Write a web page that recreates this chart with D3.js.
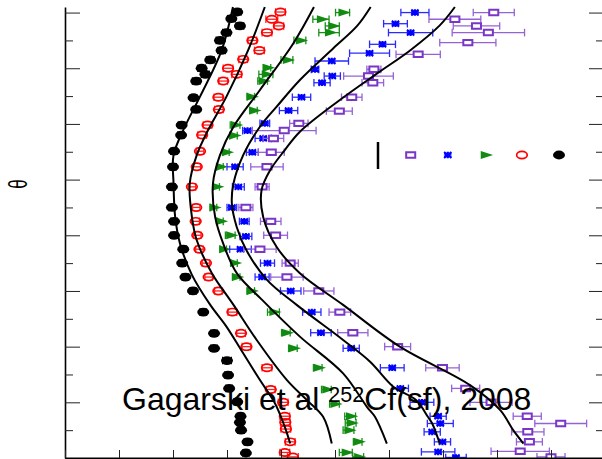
<!DOCTYPE html>
<meta charset="utf-8">
<style>
  body { margin: 0; background: #fff; }
  svg { display: block; font-family: "Liberation Sans", Arial, sans-serif; }
</style>
<svg width="602" height="459"></svg>
<script src="https://cdn.jsdelivr.net/npm/d3@7"></script>
<script>

// data (arbitrary axis units)
var blackX = [3.19,3.08,3.24,2.99,2.87,2.90,2.69,2.53,2.60,2.43,2.38,2.43,2.16,2.15,2.02,2.00,1.98,1.98,2.02,2.02,2.19,2.17,2.23,2.37,2.56,2.76,2.76,3.00,3.02,3.04,3.19,3.25,3.24,3.26,3.38,3.35];
var blackY = [8.01,7.89,7.76,7.64,7.50,7.32,7.15,7.00,6.89,6.77,6.47,6.26,5.98,5.80,5.51,5.23,4.87,4.50,4.25,4.00,3.75,3.50,3.25,3.00,2.62,2.24,1.97,1.75,1.49,1.25,1.01,0.75,0.64,0.50,0.29,0.09];
var blackErr = [0.07,0.07,0.07,0.07,0.07,0.07,0.07,0.07,0.07,0.07,0.06,0.06,0.06,0.06,0.06,0.06,0.06,0.06,0.06,0.06,0.06,0.06,0.06,0.06,0.06,0.06,0.06,0.08,0.06,0.06,0.06,0.06,0.06,0.06,0.06,0.06];

var redX = [3.99,3.83,3.96,3.74,3.47,3.60,3.30,3.02,3.18,2.93,2.84,2.85,2.64,2.54,2.50,2.44,2.35,2.43,2.42,2.45,2.49,2.61,2.66,2.84,3.10,3.26,3.36,3.74,3.81,4.04,4.07,4.08,4.09,4.17,4.07,4.22];
var redY = [8.01,7.88,7.76,7.64,7.50,7.32,7.16,7.00,6.89,6.77,6.48,6.26,5.98,5.80,5.51,5.23,4.87,4.50,4.25,4.00,3.75,3.50,3.25,3.00,2.62,2.24,2.00,1.62,1.23,1.00,0.75,0.64,0.52,0.29,0.10,0.02];
var redErr = [0.09,0.11,0.09,0.09,0.08,0.09,0.08,0.09,0.09,0.08,0.08,0.08,0.08,0.08,0.07,0.07,0.07,0.07,0.07,0.07,0.07,0.07,0.07,0.07,0.08,0.08,0.08,0.09,0.08,0.09,0.09,0.09,0.09,0.09,0.09,0.10];

var greenX = [5.14,4.74,4.95,4.89,4.35,4.11,3.74,3.72,3.66,3.44,3.49,3.15,3.12,2.98,2.87,2.80,2.75,2.87,3.06,2.93,3.13,3.17,3.44,3.86,4.09,4.22,4.68,4.84,4.99,5.28,5.29,5.25,5.42,5.20,5.43];
var greenY = [8.00,7.88,7.76,7.64,7.50,7.15,7.01,6.89,6.77,6.49,6.24,5.98,5.79,5.49,5.23,4.87,4.50,4.25,4.00,3.75,3.50,3.25,3.00,2.62,2.25,1.97,1.62,1.23,0.97,0.75,0.63,0.50,0.29,0.10,0.02];
var greenErr = [0.13,0.15,0.13,0.19,0.11,0.11,0.07,0.13,0.09,0.07,0.07,0.09,0.07,0.06,0.06,0.06,0.06,0.06,0.09,0.06,0.06,0.07,0.07,0.11,0.08,0.08,0.08,0.09,0.09,0.10,0.10,0.10,0.08,0.12,0.10];

var blueX = [6.48,6.12,6.40,5.88,5.64,4.94,4.63,4.95,4.76,4.38,4.14,3.70,3.38,3.67,3.47,3.15,3.21,3.09,3.32,3.35,3.25,3.75,3.65,4.18,4.57,4.74,5.30,6.06,6.21,6.61,6.91,6.95,6.80,6.99,6.91,7.24];
var blueY = [8.00,7.80,7.64,7.43,7.27,7.13,6.98,6.86,6.74,6.48,6.24,6.01,5.88,5.74,5.49,5.23,4.87,4.50,4.25,3.98,3.75,3.50,3.25,3.00,2.62,2.25,1.97,1.62,1.25,1.00,0.75,0.62,0.47,0.29,0.11,0.01];
var blueErr = [0.26,0.22,0.41,0.24,0.37,0.31,0.07,0.15,0.15,0.17,0.17,0.09,0.09,0.15,0.11,0.15,0.11,0.09,0.09,0.11,0.20,0.13,0.13,0.19,0.17,0.19,0.15,0.22,0.15,0.22,0.15,0.24,0.15,0.15,0.31,0.19];

var purpleX = [7.94,7.22,7.62,7.84,7.46,6.54,5.72,5.62,5.70,5.31,5.08,4.33,4.06,3.86,3.82,3.74,3.65,3.35,3.81,3.90,3.61,4.17,4.11,4.70,5.09,5.33,6.16,6.99,7.42,7.89,8.56,9.18,8.57,8.60,8.43,9.00];
var purpleY = [8.00,7.88,7.76,7.64,7.46,7.25,6.98,6.86,6.74,6.48,6.23,6.01,5.88,5.74,5.49,5.23,4.87,4.50,4.25,4.00,3.75,3.50,3.25,3.00,2.62,2.25,2.00,1.62,1.25,1.00,0.75,0.62,0.47,0.29,0.12,0.02];
var purpleErr = [0.38,0.48,0.43,0.67,0.52,0.41,0.13,0.46,0.20,0.19,0.24,0.17,0.59,0.19,0.24,0.30,0.13,0.13,0.19,0.22,0.30,0.15,0.30,0.28,0.20,0.28,0.24,0.31,0.26,0.39,0.26,0.48,0.30,0.24,0.54,0.26];

// model curves
var curve1X = [3.11,2.90,2.50,2.22,2.01,2.01,2.04,2.13,2.35,2.69,2.99,3.30,3.61,3.89,4.07,4.17];
var curve1Y = [8.10,7.32,6.49,5.95,5.44,4.93,4.33,3.85,3.29,2.75,2.36,1.88,1.40,0.98,0.56,0.26];
var curve2X = [3.70,3.39,2.99,2.65,2.44,2.31,2.35,2.44,2.72,3.12,3.55,4.11,4.48,4.78,4.94];
var curve2Y = [8.10,7.32,6.49,5.89,5.44,4.93,4.33,3.91,3.32,2.75,2.12,1.40,1.04,0.74,0.26];
var curve3X = [4.61,4.23,3.61,3.12,2.87,2.74,2.78,2.93,3.18,3.65,4.35,5.15,5.59,5.74,5.96];
var curve3Y = [8.10,7.45,6.61,5.95,5.44,4.93,4.33,3.85,3.32,2.84,2.18,1.52,0.92,0.74,0.26];
var curve4X = [5.66,5.41,4.97,4.35,3.92,3.61,3.30,3.12,3.09,3.18,3.36,3.74,4.29,5.15,5.65,6.08,6.50,6.72,6.80,6.94];
var curve4Y = [8.10,7.76,7.36,6.79,6.31,5.95,5.44,4.93,4.57,4.15,3.73,3.20,2.75,2.12,1.73,1.28,1.04,0.74,0.62,0.26];
var curve5X = [7.22,6.94,6.39,5.83,5.09,4.35,4.07,3.80,3.64,3.67,3.92,4.35,5.15,6.20,7.50,8.06,8.30,8.49];
var curve5Y = [8.10,7.77,7.32,6.94,6.43,5.86,5.53,5.17,4.81,4.33,3.79,3.32,2.75,2.00,1.31,0.86,0.50,0.26];

var legendKeys = ["purple", "blue", "green", "red", "black"];
var yTicksMajor = d3.range(0, 8.01, 1);
var yTicksMinor = d3.range(0.5, 8, 1);
var xTicks = d3.range(0, 10.01, 1);

var svg = d3.select("svg");

var x = d3.scaleLinear().domain([0, 10]).range([65, 605]);
var y = d3.scaleLinear().domain([0, 8.1]).range([458, 7]);

svg.append("defs").append("clipPath").attr("id", "plot")
  .append("rect").attr("x", 65).attr("y", 0).attr("width", 545).attr("height", 458);

var series = {
  black:  {xs: blackX,  ys: blackY,  es: blackErr,  color: "#000000", bar: "#000000", marker: "dot"},
  red:    {xs: redX,    ys: redY,    es: redErr,    color: "#ff0000", bar: "#ff2020", marker: "circle"},
  green:  {xs: greenX,  ys: greenY,  es: greenErr,  color: "#108a10", bar: "#189018", marker: "tri"},
  blue:   {xs: blueX,   ys: blueY,   es: blueErr,   color: "#0000ff", bar: "#2a2aff", marker: "star"},
  purple: {xs: purpleX, ys: purpleY, es: purpleErr, color: "#7a36c6", bar: "#9563d6", marker: "square"}
};

function drawMarker(sel, kind, color) {
  if (kind === "dot") {
    sel.append("ellipse").attr("rx", 6).attr("ry", 4.4).attr("fill", color);
  } else if (kind === "circle") {
    sel.append("ellipse").attr("rx", 5.3).attr("ry", 3.6)
      .attr("fill", "none").attr("stroke", color).attr("stroke-width", 1.7);
  } else if (kind === "tri") {
    sel.append("path").attr("d", d3.symbol(d3.symbolTriangle, 48)())
      .attr("transform", "scale(1.35,0.76) rotate(90)")
      .attr("fill", color);
  } else if (kind === "star") {
    sel.append("path").attr("d", d3.symbol(d3.symbolAsterisk, 30)())
      .attr("transform", "scale(1.25,1)")
      .attr("fill", "none").attr("stroke", color).attr("stroke-width", 2.2)
      .attr("vector-effect", "non-scaling-stroke");
    sel.append("path").attr("d", d3.symbol(d3.symbolTimes, 24)())
      .attr("transform", "scale(1.25,1)")
      .attr("fill", "none").attr("stroke", color).attr("stroke-width", 2)
      .attr("vector-effect", "non-scaling-stroke");
  } else if (kind === "square") {
    sel.append("path").attr("d", d3.symbol(d3.symbolSquare, 30)())
      .attr("transform", "scale(1.65,1)")
      .attr("fill", "#fff").attr("stroke", color).attr("stroke-width", 2)
      .attr("vector-effect", "non-scaling-stroke");
  }
}

var plot = svg.append("g").attr("clip-path", "url(#plot)");

["black", "red", "green", "blue", "purple"].forEach(function(key) {
  var s = series[key];
  var pts = s.xs.map(function(v, i) { return {x: v, y: s.ys[i], e: s.es[i]}; });
  var g = plot.append("g").attr("class", "series-" + key);

  var bars = g.selectAll("g.err").data(pts).enter().append("g").attr("class", "err")
    .attr("stroke", s.bar).attr("stroke-width", 1.3);
  bars.append("line")
    .attr("x1", function(d) { return x(d.x - d.e); })
    .attr("x2", function(d) { return x(d.x + d.e); })
    .attr("y1", function(d) { return y(d.y); })
    .attr("y2", function(d) { return y(d.y); });
  [-1, 1].forEach(function(side) {
    bars.append("line")
      .attr("x1", function(d) { return x(d.x + side * d.e); })
      .attr("x2", function(d) { return x(d.x + side * d.e); })
      .attr("y1", function(d) { return y(d.y) - 3.8; })
      .attr("y2", function(d) { return y(d.y) + 3.8; });
  });

  g.selectAll("g.mk").data(pts).enter().append("g").attr("class", "mk")
    .attr("transform", function(d) { return "translate(" + x(d.x) + "," + y(d.y) + ")"; })
    .each(function() { drawMarker(d3.select(this), s.marker, s.color); });
});

// curves on top
var line = d3.line()
  .x(function(d) { return x(d[0]); })
  .y(function(d) { return y(d[1]); })
  .curve(d3.curveCatmullRom.alpha(0.5));

[[curve1X, curve1Y], [curve2X, curve2Y], [curve3X, curve3Y], [curve4X, curve4Y], [curve5X, curve5Y]]
  .forEach(function(c) {
    plot.append("path")
      .datum(c[0].map(function(v, i) { return [v, c[1][i]]; }))
      .attr("d", line)
      .attr("fill", "none")
      .attr("stroke", "#000")
      .attr("stroke-width", 2);
  });

// axes
function styleAxis(g, w) {
  g.select(".domain").attr("stroke", "#000").attr("stroke-width", w);
  g.selectAll(".tick line").attr("stroke", "#222").attr("stroke-width", 1);
  g.selectAll(".tick text").remove();
}

svg.append("g").attr("transform", "translate(65,0)")
  .call(d3.axisRight(y).tickValues(yTicksMajor).tickSize(15).tickSizeOuter(0).tickFormat(""))
  .call(styleAxis, 1.6);
svg.append("g").attr("transform", "translate(65,0)")
  .call(d3.axisRight(y).tickValues(yTicksMinor).tickSize(8).tickSizeOuter(0).tickFormat(""))
  .call(function(g) { g.select(".domain").remove(); styleAxis(g, 0); });

svg.append("g").attr("transform", "translate(604,0)")
  .call(d3.axisLeft(y).tickValues(yTicksMajor).tickSize(15).tickSizeOuter(0).tickFormat(""))
  .call(styleAxis, 1.6);
svg.append("g").attr("transform", "translate(604,0)")
  .call(d3.axisLeft(y).tickValues(yTicksMinor).tickSize(8).tickSizeOuter(0).tickFormat(""))
  .call(function(g) { g.select(".domain").remove(); styleAxis(g, 0); });

svg.append("g").attr("transform", "translate(0,458)")
  .call(d3.axisTop(x).tickValues(xTicks).tickSize(8).tickSizeOuter(0).tickFormat(""))
  .call(styleAxis, 2);

// y title
svg.append("text")
  .attr("transform", "translate(18,184) scale(1.5,1) rotate(-90)")
  .attr("text-anchor", "middle")
  .attr("dy", "0.35em")
  .attr("font-size", 17)
  .attr("fill", "#000")
  .text("θ");

// legend (markers only)
var lx = d3.scalePoint().domain(legendKeys).range([410.7, 559]);
svg.append("line")
  .attr("x1", 378).attr("x2", 378).attr("y1", 142).attr("y2", 169)
  .attr("stroke", "#000").attr("stroke-width", 2.5);
legendKeys.forEach(function(key) {
  var g = svg.append("g").attr("transform", "translate(" + lx(key) + ",155)");
  drawMarker(g, series[key].marker, series[key].color);
});

// annotation
var label = svg.append("text")
  .attr("x", 122).attr("y", 409.5)
  .attr("font-size", 32)
  .attr("fill", "#000");
label.append("tspan").text("Gagarski et al ");
label.append("tspan").attr("font-size", 21.5).attr("dy", -7.5).text("252");
label.append("tspan").attr("dy", 7.5).text("Cf(sf), 2008");

</script>
